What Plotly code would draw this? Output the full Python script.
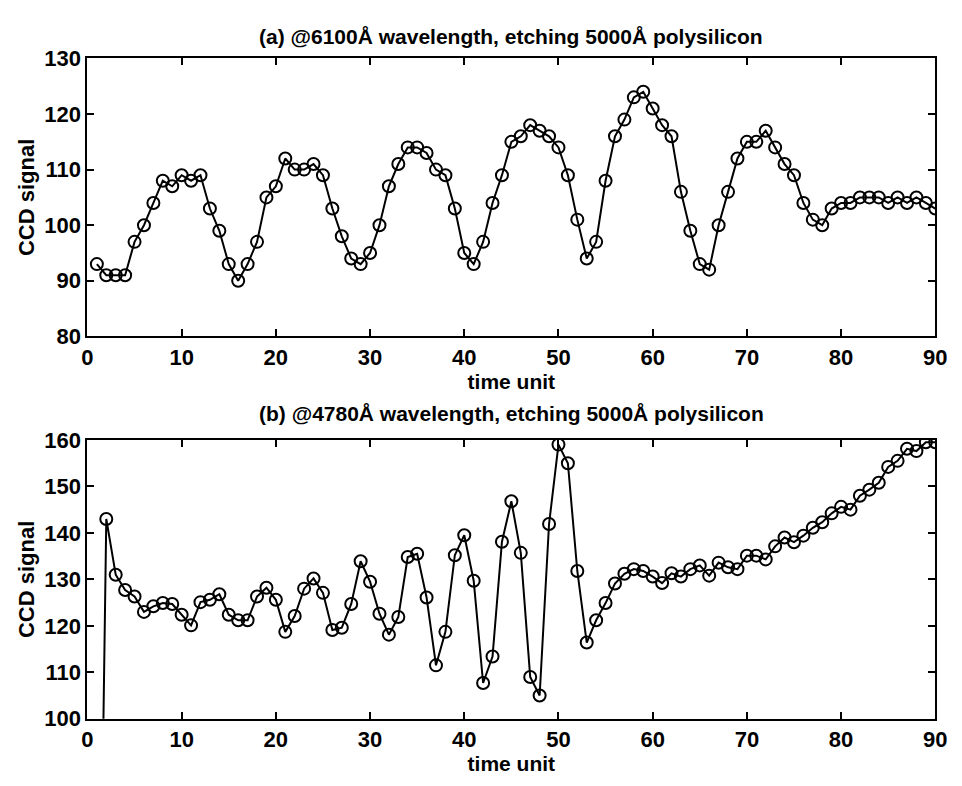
import plotly.graph_objects as go

time_a = list(range(1, 91))
signal_a = [93, 91, 91, 91, 97, 100, 104, 108, 107, 109,
            108, 109, 103, 99, 93, 90, 93, 97, 105, 107,
            112, 110, 110, 111, 109, 103, 98, 94, 93, 95,
            100, 107, 111, 114, 114, 113, 110, 109, 103, 95,
            93, 97, 104, 109, 115, 116, 118, 117, 116, 114,
            109, 101, 94, 97, 108, 116, 119, 123, 124, 121,
            118, 116, 106, 99, 93, 92, 100, 106, 112, 115,
            115, 117, 114, 111, 109, 104, 101, 100, 103, 104,
            104, 105, 105, 105, 104, 105, 104, 105, 104, 103]

time_b = list(range(1, 91))
signal_b = [0, 143, 131, 127.7, 126.3, 123, 124.2, 124.9, 124.7, 122.4,
            120.1, 125.1, 125.6, 126.8, 122.4, 121.2, 121.2, 126.3, 128.2, 125.6,
            118.7, 122.1, 128, 130.2, 127.1, 119.1, 119.6, 124.7, 133.9, 129.5,
            122.6, 118.1, 121.9, 134.8, 135.5, 126.1, 111.5, 118.7, 135.2, 139.5,
            129.7, 107.7, 113.4, 138.1, 146.8, 135.7, 109, 105, 141.9, 159,
            155, 131.8, 116.4, 121.2, 124.9, 129.1, 131.2, 132.2, 131.8, 130.6,
            129.2, 131.3, 130.6, 132.2, 133, 130.8, 133.6, 132.6, 132.2, 135.1,
            135.1, 134.3, 137.1, 139, 138, 139.4, 141.1, 142.3, 144.2, 145.6,
            145, 148, 149.3, 150.8, 154.2, 155.5, 158.1, 157.6, 159.5, 159.5]

title_a = "(a) @6100Å wavelength, etching 5000Å polysilicon"
title_b = "(b) @4780Å wavelength, etching 5000Å polysilicon"
x_label = "time unit"
y_label = "CCD signal"
x_ticks = [0, 10, 20, 30, 40, 50, 60, 70, 80, 90]
y_ticks_a = [80, 90, 100, 110, 120, 130]
y_ticks_b = [100, 110, 120, 130, 140, 150, 160]

W, H = 962, 786
FONT = "Liberation Sans, Arial, Helvetica, sans-serif"

def px_x(p):
    return p / W

def px_y(p):
    return 1 - p / H

fig = go.Figure()
style = dict(mode="lines+markers",
             line=dict(color="black", width=2),
             marker=dict(symbol="circle-open", size=12, color="black",
                         line=dict(width=2, color="black")),
             showlegend=False)
fig.add_trace(go.Scatter(x=time_a, y=signal_a, xaxis="x", yaxis="y", **style))
fig.add_trace(go.Scatter(x=time_b, y=signal_b, xaxis="x2", yaxis="y2", **style))

xdom = [px_x(83), px_x(947)]
axis_common = dict(showline=True, linecolor="black", linewidth=2, mirror="ticks",
                   ticks="inside", ticklen=7, tickwidth=2, tickcolor="black",
                   showgrid=False, zeroline=False,
                   tickfont=dict(family=FONT, size=22, color="black", weight="bold"))
title_font = dict(family=FONT, size=21, color="black", weight="bold")

fig.update_layout(
    width=W, height=H,
    margin=dict(l=0, r=0, t=0, b=0),
    paper_bgcolor="white", plot_bgcolor="white",
    xaxis=dict(domain=xdom, range=[0, 90], tickvals=x_ticks, anchor="y",
               title=dict(text=x_label, font=title_font, standoff=2), **axis_common),
    yaxis=dict(domain=[px_y(335), px_y(48)], range=[80, 130], tickvals=y_ticks_a,
               anchor="x", title=dict(text=y_label, font=dict(family=FONT, size=22, color="black", weight="bold"), standoff=4),
               **axis_common),
    xaxis2=dict(domain=xdom, range=[0, 90], tickvals=x_ticks, anchor="y2",
                title=dict(text=x_label, font=title_font, standoff=2), **axis_common),
    yaxis2=dict(domain=[px_y(730), px_y(442)], range=[100, 160], tickvals=y_ticks_b,
                anchor="x2", title=dict(text=y_label, font=dict(family=FONT, size=22, color="black", weight="bold"), standoff=4),
                **axis_common),
    annotations=[
        dict(text=title_a, x=px_x(515), y=px_y(25), xref="paper", yref="paper",
             xanchor="center", yanchor="middle", showarrow=False, font=title_font),
        dict(text=title_b, x=px_x(515), y=px_y(415), xref="paper", yref="paper",
             xanchor="center", yanchor="middle", showarrow=False, font=title_font),
    ],
)

fig.write_html("out.html")
